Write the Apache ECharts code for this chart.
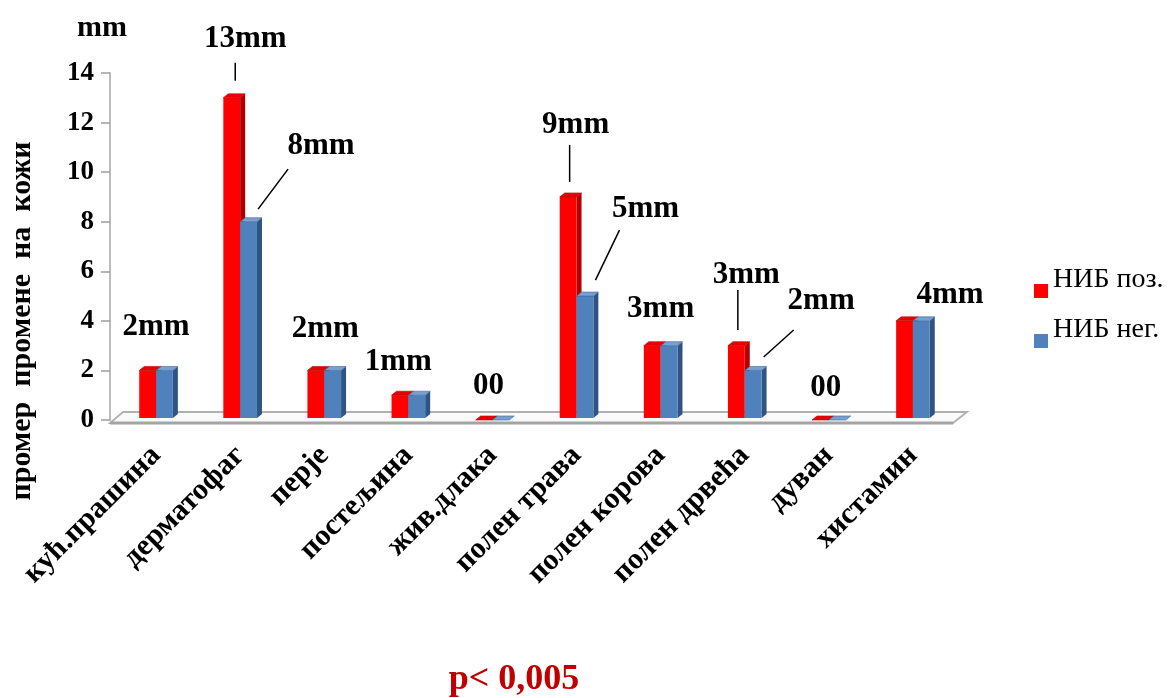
<!DOCTYPE html>
<html>
<head>
<meta charset="utf-8">
<script src="https://cdn.jsdelivr.net/npm/echarts@6/dist/echarts.min.js"></script>
<style>
  html, body { margin: 0; padding: 0; background: #fff; }
  #chart { width: 1173px; height: 698px; }
</style>
</head>
<body>
<div id="chart"></div>
<script>
// Allergen categories and skin reaction size (mm)
const categories = ['кућ.прашина', 'дерматофаг', 'перје', 'постељина', 'жив.длака',
                    'полен трава', 'полен корова', 'полен дрвећа', 'дуван', 'хистамин'];
const positiveValues = [2, 13, 2, 1, 0, 9, 3, 3, 0, 4];   // НИБ поз.
const negativeValues = [2, 8, 2, 1, 0, 5, 3, 2, 0, 4];    // НИБ нег.
const seriesNames = ['НИБ поз.', 'НИБ нег.'];
const yTicks = { min: 0, max: 14, interval: 2 };

// Label placement: which bar a label belongs to, offset from that bar top, optional leader line
const labelLayout = [
  { cat: 0, on: 'both', dx: 0,    dy: -43 },
  { cat: 1, on: 'pos',  dx: 13.5, dy: -59,  line: [3.5, -17, 3.5, -35] },
  { cat: 1, on: 'neg',  dx: 72.5, dy: -76,  line: [9.5, -12.6, 39.5, -52.6] },
  { cat: 2, on: 'both', dx: 1,    dy: -41 },
  { cat: 3, on: 'both', dx: -10,  dy: -33 },
  { cat: 4, on: 'both', dx: -4,   dy: -34 },
  { cat: 5, on: 'pos',  dx: 7.5,  dy: -72,  line: [1.5, -15, 1.5, -52] },
  { cat: 5, on: 'neg',  dx: 60.5, dy: -87,  line: [10.5, -16, 34.5, -66] },
  { cat: 6, on: 'both', dx: 0,    dy: -37 },
  { cat: 7, on: 'pos',  dx: 10,   dy: -71,  line: [1.5, -15.6, 1.5, -55.6] },
  { cat: 7, on: 'neg',  dx: 68,   dy: -69,  line: [10.5, -13.4, 40.5, -40.4] },
  { cat: 8, on: 'both', dx: -3,   dy: -32 },
  { cat: 9, on: 'both', dx: 37,   dy: -26 }
];

const FONT = '"Liberation Serif", "Times New Roman", serif';
const DEPTH_X = 5, DEPTH_Y = -4;

const palette = {
  pos: { front: '#ff0000', side: '#b00000', top: '#e60000', edge: '#c00000' },
  neg: { front: '#4f81bd', side: '#2f5482', top: '#7aa0d2', edge: '#3b6496' }
};

function barWidth(api) { return api.size([1, 0])[0] * 0.2; }

// 3D-looking bar: front face, right side face and top face
function renderBar(kind) {
  const c = palette[kind];
  return function (params, api) {
    const i = api.value(0), v = api.value(1);
    const top = api.coord([i, v]);
    const base = api.coord([i, 0]);
    const w = barWidth(api);
    const x = kind === 'pos' ? top[0] - w : top[0];
    const yT = top[1], yB = base[1] - 2;
    const children = [];
    if (yB - yT > 0.5) {
      children.push({
        type: 'polygon',
        shape: { points: [[x + w, yT], [x + w + DEPTH_X, yT + DEPTH_Y], [x + w + DEPTH_X, yB + DEPTH_Y], [x + w, yB]] },
        style: { fill: c.side }
      });
      children.push({ type: 'rect', shape: { x: x, y: yT, width: w, height: yB - yT }, style: { fill: c.front } });
    }
    children.push({
      type: 'polygon',
      shape: { points: [[x, yT], [x + DEPTH_X, yT + DEPTH_Y], [x + w + DEPTH_X, yT + DEPTH_Y], [x + w, yT]] },
      style: { fill: c.top, stroke: c.edge, lineWidth: 0.6 }
    });
    return { type: 'group', children: children };
  };
}

// Floor plane of the plot area
function renderFloor(params, api) {
  const cs = params.coordSys;
  const yb = api.coord([0, 0])[1];
  const l = cs.x, r = cs.x + cs.width;
  const fy = yb + 3, by = yb - 8;
  return {
    type: 'group',
    children: [
      { type: 'polygon',
        shape: { points: [[l - 4, fy], [r - 2, fy], [r + 12, by], [l + 9, by]] },
        style: { fill: '#fafafa', stroke: '#b0b0b0', lineWidth: 1.8 } },
      { type: 'line', shape: { x1: l - 4, y1: fy, x2: r - 2, y2: fy },
        style: { stroke: '#a4a4a4', lineWidth: 3 } }
    ]
  };
}

function labelValue(s) {
  if (s.on === 'neg') return negativeValues[s.cat];
  return positiveValues[s.cat];
}
function labelText(s) {
  if (s.on === 'both') {
    const p = positiveValues[s.cat], n = negativeValues[s.cat];
    return p === 0 ? String(p) + String(n) : p + 'mm';
  }
  return labelValue(s) + 'mm';
}

function renderLabel(params, api) {
  const s = labelLayout[params.dataIndex];
  const top = api.coord([api.value(0), api.value(1)]);
  const w = barWidth(api);
  const ax = s.on === 'pos' ? top[0] - w / 2 : s.on === 'neg' ? top[0] + w / 2 : top[0];
  const ay = top[1];
  const children = [{
    type: 'text',
    style: {
      text: labelText(s), x: ax + s.dx, y: ay + s.dy,
      align: 'center', verticalAlign: 'middle',
      font: 'bold 31px ' + FONT, fill: '#000'
    }
  }];
  if (s.line) {
    children.push({
      type: 'line',
      shape: { x1: ax + s.line[0], y1: ay + s.line[1], x2: ax + s.line[2], y2: ay + s.line[3] },
      style: { stroke: '#000', lineWidth: 1.5 }
    });
  }
  return { type: 'group', children: children };
}

const chart = echarts.init(document.getElementById('chart'), null, { renderer: 'canvas' });

chart.setOption({
  animation: false,
  backgroundColor: '#fff',
  grid: { left: 114, width: 841, top: 73, bottom: 278 },
  legend: {
    orient: 'vertical', left: 1029, top: 261,
    itemWidth: 14, itemHeight: 14, itemGap: 0, icon: 'rect',
    data: seriesNames,
    formatter: '{t|{name}}',
    textStyle: {
      fontFamily: FONT, fontSize: 28, color: '#000',
      rich: { t: { fontFamily: FONT, fontSize: 28, color: '#000', lineHeight: 26, padding: [0, 0, 22, 0] } }
    }
  },
  xAxis: {
    type: 'category', data: categories,
    axisLine: { show: false }, axisTick: { show: false },
    axisLabel: { interval: 0, rotate: 45, margin: 31, fontFamily: FONT, fontWeight: 'bold', fontSize: 30, color: '#000' }
  },
  yAxis: {
    type: 'value', min: yTicks.min, max: yTicks.max, interval: yTicks.interval, offset: 4,
    axisLine: { show: true, lineStyle: { color: '#bdbdbd', width: 2 } },
    axisTick: { show: true, length: 9, lineStyle: { color: '#9e9e9e', width: 1.5 } },
    splitLine: { show: false },
    axisLabel: { margin: 16, fontFamily: FONT, fontWeight: 'bold', fontSize: 27, color: '#000' }
  },
  graphic: [
    { type: 'text', left: 77, top: 13,
      style: { text: 'mm', font: 'bold 30px ' + FONT, fill: '#000' } },
    { type: 'text', x: 7, y: 321, rotation: Math.PI / 2,
      style: { text: 'промер  промене  на  кожи', font: 'bold 30px ' + FONT, fill: '#000',
               align: 'center', verticalAlign: 'top' } },
    { type: 'text', x: 514, y: 680,
      style: { text: 'p< 0,005', font: 'bold 36px ' + FONT, fill: '#c00000', align: 'center', verticalAlign: 'middle' } }
  ],
  series: [
    { type: 'custom', name: 'floor', silent: true, z: 1, renderItem: renderFloor, data: [[0, 0]] },
    { type: 'custom', name: seriesNames[0], z: 2, itemStyle: { color: palette.pos.front },
      renderItem: renderBar('pos'), data: positiveValues.map((v, i) => [i, v]) },
    { type: 'custom', name: seriesNames[1], z: 3, itemStyle: { color: palette.neg.front },
      renderItem: renderBar('neg'), data: negativeValues.map((v, i) => [i, v]) },
    { type: 'custom', name: 'labels', silent: true, z: 4, renderItem: renderLabel,
      data: labelLayout.map(s => [s.cat, labelValue(s)]) }
  ]
});
</script>
</body>
</html>
